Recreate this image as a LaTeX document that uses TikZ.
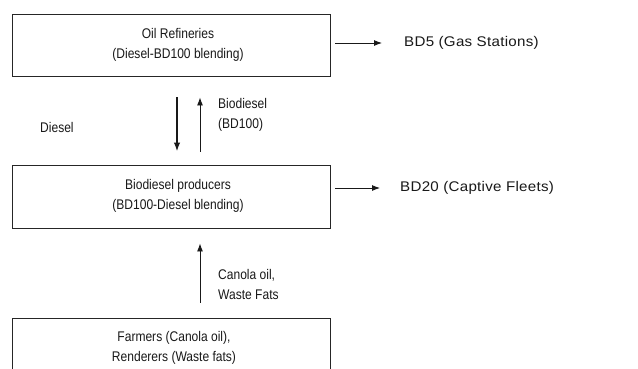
\documentclass[tikz,border=0pt]{standalone}
\usepackage{fontspec}
\setmainfont[FakeStretch=0.86]{Liberation Sans}
\newfontfamily\widefont[FakeStretch=1.08,LetterSpace=2]{Liberation Sans}
\usetikzlibrary{arrows.meta}
\begin{document}
\begin{tikzpicture}[x=1pt,y=-1pt,
  box/.style={draw=black!85, line width=0.9pt, minimum width=318pt, minimum height=62pt, inner sep=0pt},
  txt/.style={font=\fontsize{14}{20}\selectfont, align=center, text=black!90, inner sep=0pt},
  ltxt/.style={font=\fontsize{14}{20}\selectfont, align=left, text=black!90, inner sep=0pt, anchor=west},
  rtxt/.style={font=\widefont\fontsize{14}{20}\selectfont, text=black!90, inner sep=0pt, anchor=west},
  arr/.style={-{Latex[length=8pt,width=6pt]}, line width=0.9pt, draw=black!90},
  thickarr/.style={-{Latex[length=9pt,width=6.5pt]}, line width=1.8pt, draw=black!90}]
\clip (0,0) rectangle (638,368);
\fill[white] (0,0) rectangle (638,368);
% boxes
\node[box] (b1) at (171,45) {};
\node[txt] (t1) at (178,44.5) {Oil Refineries\\(Diesel-BD100 blending)};
\node[box, minimum height=63pt] (b2) at (171,196.5) {};
\node[txt] (t2) at (178,196) {Biodiesel producers\\(BD100-Diesel blending)};
\node[box, minimum height=80pt] (b3) at (171,358) {};
\node[txt] (t3) at (174,348) {Farmers (Canola oil),\\Renderers (Waste fats)};
% coordinates
\coordinate (xd) at (177,0);
\coordinate (xb) at (200,0);
\coordinate (xc) at (200,0);
\coordinate (e1) at (382,43);
\coordinate (e2) at (380,188);
% vertical arrows
\draw[thickarr, shorten <=21pt, shorten >=13pt] (b1.south -| xd) -- (b2.north -| xd);
\draw[arr, shorten <=13pt, shorten >=21pt] (b2.north -| xb) -- (b1.south -| xb);
\draw[arr, shorten <=15pt, shorten >=15pt] (b3.north -| xc) -- (b2.south -| xc);
% horizontal arrows
\draw[arr] ([xshift=5pt]b1.east |- e1) -- (e1);
\draw[arr] ([xshift=5pt]b2.east |- e2) -- (e2);
% labels
\node[rtxt] (l5) at (404,43) {BD5 (Gas Stations)};
\node[rtxt] (l20) at (400,188) {BD20 (Captive Fleets)};
\node[ltxt] (ld) at (40,127) {Diesel};
\node[ltxt] (lb) at (218,114.5) {Biodiesel\\(BD100)};
\node[ltxt] (lc) at (218,284.5) {Canola oil,\\Waste Fats};
\end{tikzpicture}
\end{document}
